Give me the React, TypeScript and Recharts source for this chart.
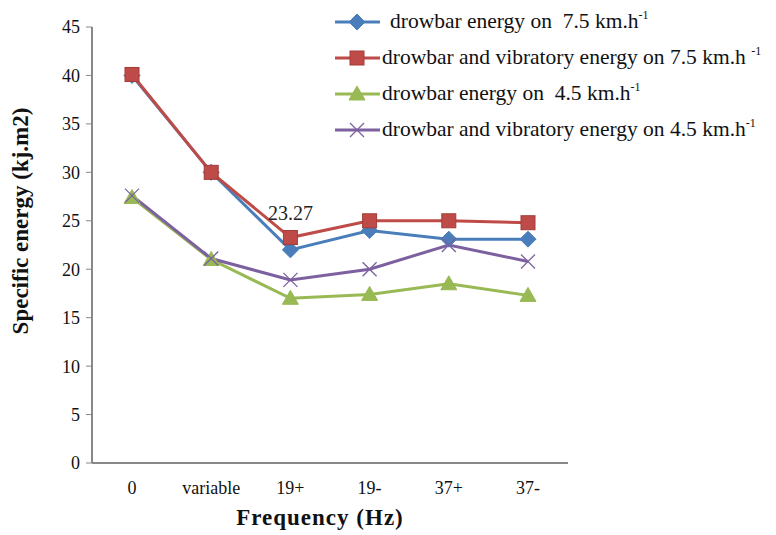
import React from "react"
import { LineChart, Line, XAxis, YAxis, Legend, Label } from "recharts"

const categories = ["0", "variable", "19+", "19-", "37+", "37-"]
const drawbar75 = [40, 30, 22, 24, 23.1, 23.1]
const vibratory75 = [40.1, 30, 23.27, 25, 25, 24.8]
const drawbar45 = [27.4, 21, 17, 17.4, 18.5, 17.3]
const vibratory45 = [27.6, 21.1, 18.9, 20, 22.5, 20.8]
const yTicks = [0, 5, 10, 15, 20, 25, 30, 35, 40, 45]

const data = categories.map((name, i) => ({
  name,
  d75: drawbar75[i],
  v75: vibratory75[i],
  d45: drawbar45[i],
  v45: vibratory45[i],
}))

const BLUE = "#4A7EBB"
const RED = "#BE4B48"
const GREEN = "#98B954"
const PURPLE = "#7D60A0"
const FONT = "Liberation Serif, DejaVu Serif, serif"

type Shape = "diamond" | "square" | "triangle" | "cross"

function Marker({ shape, cx, cy, color }: { shape: Shape; cx: number; cy: number; color: string }) {
  if (shape === "diamond") {
    return <path d={`M${cx},${cy - 8} L${cx + 8},${cy} L${cx},${cy + 8} L${cx - 8},${cy} Z`} fill={color} stroke={color} strokeWidth={1} />
  }
  if (shape === "square") {
    return <rect x={cx - 7} y={cy - 7} width={14} height={14} fill={color} stroke="#a33c39" strokeWidth={1} />
  }
  if (shape === "triangle") {
    return <path d={`M${cx},${cy - 8} L${cx + 8},${cy + 6} L${cx - 8},${cy + 6} Z`} fill={color} stroke={color} strokeWidth={1} />
  }
  return (
    <g stroke={color} strokeWidth={1.3}>
      <line x1={cx - 7} y1={cy - 7} x2={cx + 7} y2={cy + 7} />
      <line x1={cx - 7} y1={cy + 7} x2={cx + 7} y2={cy - 7} />
    </g>
  )
}

const series: { key: string; color: string; shape: Shape; text: string; indent: number }[] = [
  { key: "d75", color: BLUE, shape: "diamond", text: "drowbar energy on\u00a0 7.5 km.h", indent: 8 },
  { key: "v75", color: RED, shape: "square", text: "drowbar and vibratory energy on 7.5 km.h\u00a0", indent: 0 },
  { key: "d45", color: GREEN, shape: "triangle", text: "drowbar energy on\u00a0 4.5 km.h", indent: 0 },
  { key: "v45", color: PURPLE, shape: "cross", text: "drowbar and vibratory energy on 4.5 km.h", indent: 0 },
]

function makeDot(shape: Shape, color: string) {
  return (p: any) => (
    <Marker key={`${shape}-${p.index}`} shape={shape} cx={p.cx} cy={p.cy} color={color} />
  )
}

function LegendBox() {
  return (
    <svg width={446} height={150}>
      {series.map((s, i) => {
        const y = 22 + i * 36
        return (
          <g key={s.key}>
            <line x1={5} y1={y} x2={50} y2={y} stroke={s.color} strokeWidth={3} />
            <Marker shape={s.shape} cx={27} cy={y} color={s.color} />
            <text x={52 + s.indent} y={y + 6} style={{ fontFamily: FONT, fontSize: 21.5, fill: "#111" }}>
              {s.text}
              <tspan dy={-9} style={{ fontSize: 12 }}>-1</tspan>
            </text>
          </g>
        )
      })}
    </svg>
  )
}

function YTitle(props: any) {
  const vb = props.viewBox
  const x = vb.x - 10
  const y = vb.y + vb.height / 2 - 24
  return (
    <text x={x} y={y} transform={`rotate(-90 ${x} ${y})`} textAnchor="middle" dominantBaseline="central" style={{ fontFamily: FONT, fontSize: 23, fontWeight: "bold", fill: "#111" }}>
      Specific energy (kj.m2)
    </text>
  )
}

export default function App() {
  return (
    <div style={{ position: "absolute", left: 0, top: 0, background: "#fff" }}>
      <LineChart width={776} height={535} data={data} margin={{ top: 27, right: 208, left: 30, bottom: 42 }}>
        <XAxis
          dataKey="name"
          axisLine={{ stroke: "#888", strokeWidth: 2 }}
          tickLine={false}
          tickMargin={12}
          tick={{ fontFamily: FONT, fontSize: 18, fill: "#111" }}
          height={30}
          padding={{ left: 40, right: 40 }}
        >
          <Label value="Frequency  (Hz)" position="bottom" offset={16} dx={-10} style={{ fontFamily: FONT, fontSize: 23, fontWeight: "bold", fill: "#111", letterSpacing: 1 }} />
        </XAxis>
        <YAxis
          domain={[0, 45]}
          ticks={yTicks}
          interval={0}
          width={62}
          axisLine={{ stroke: "#888", strokeWidth: 2 }}
          tickLine={{ stroke: "#888" }}
          tickSize={6}
          tickMargin={6}
          tick={{ fontFamily: FONT, fontSize: 18, fill: "#111" }}
        >
          <Label content={YTitle} />
        </YAxis>
        <Legend
          layout="horizontal"
          verticalAlign="middle"
          align="center"
          content={() => <LegendBox />}
          wrapperStyle={{ position: "absolute", top: 0, left: 330, width: 446 }}
        />
        {series.map((s) => (
          <Line
            key={s.key}
            type="linear"
            dataKey={s.key}
            stroke={s.color}
            strokeWidth={3}
            dot={makeDot(s.shape, s.color)}
            activeDot={false}
            isAnimationActive={false}
            label={
              s.key === "v75"
                ? (p: any) =>
                    p.index === 2 ? (
                      <text key="lbl" x={p.x} y={p.y - 18} textAnchor="middle" style={{ fontFamily: FONT, fontSize: 20, fill: "#222" }}>
                        {p.value}
                      </text>
                    ) : (
                      <g key={`e-${p.index}`} />
                    )
                : false
            }
          />
        ))}
      </LineChart>
    </div>
  )
}
